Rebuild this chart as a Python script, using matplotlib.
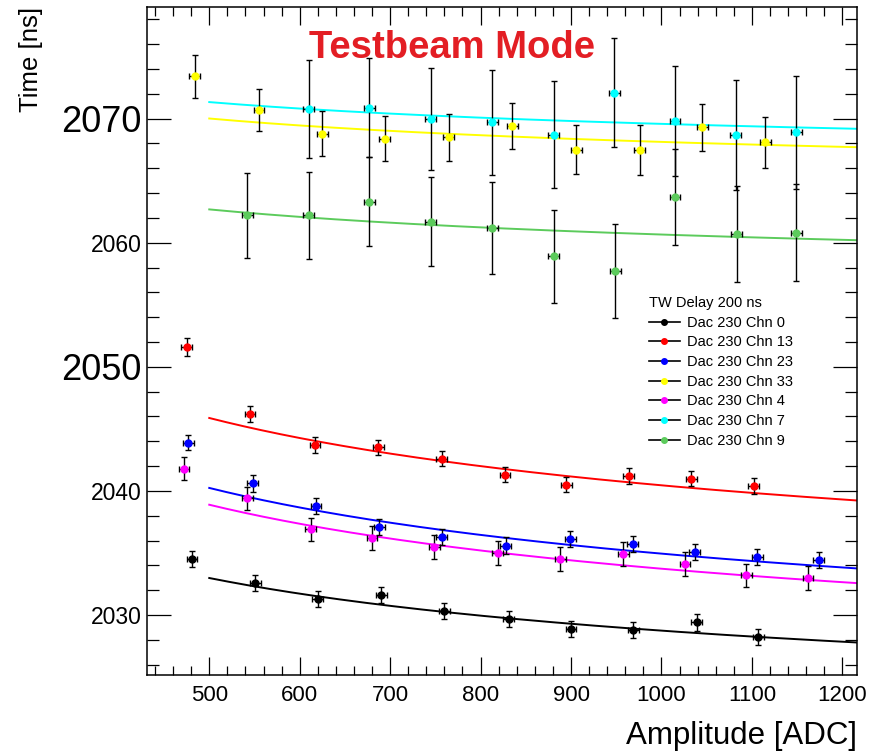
import numpy as np
import matplotlib
matplotlib.use("Agg")
import matplotlib.pyplot as plt
from matplotlib.lines import Line2D
from matplotlib.ticker import MultipleLocator

plt.rcParams["font.family"] = ["Liberation Sans", "DejaVu Sans"]

# measured points: amplitude [ADC], time [ns], time error [ns]
amp_ch0 = [481, 551, 620, 690, 760, 831, 900, 969, 1039, 1107]
time_ch0 = [2034.5, 2032.6, 2031.3, 2031.6, 2030.3, 2029.7, 2028.9, 2028.8, 2029.4, 2028.2]
terr_ch0 = [0.63, 0.65, 0.65, 0.65, 0.65, 0.65, 0.65, 0.65, 0.65, 0.65]

amp_ch13 = [475, 545, 617, 687, 757, 827, 895, 964, 1033, 1102]
time_ch13 = [2051.6, 2046.2, 2043.7, 2043.5, 2042.6, 2041.3, 2040.5, 2041.2, 2041.0, 2040.4]
terr_ch13 = [0.7, 0.62, 0.62, 0.62, 0.62, 0.62, 0.62, 0.62, 0.62, 0.62]

amp_ch23 = [477, 548, 618, 688, 757, 828, 899, 968, 1037, 1106, 1174]
time_ch23 = [2043.9, 2040.6, 2038.8, 2037.1, 2036.3, 2035.6, 2036.1, 2035.7, 2035.1, 2034.7, 2034.4]
terr_ch23 = [0.6, 0.65, 0.65, 0.65, 0.65, 0.65, 0.65, 0.65, 0.65, 0.65, 0.65]

amp_ch33 = [484, 555, 625, 694, 765, 835, 906, 976, 1045, 1115]
time_ch33 = [2073.4, 2070.7, 2068.8, 2068.4, 2068.5, 2069.4, 2067.5, 2067.5, 2069.3, 2068.1]
terr_ch33 = [1.7, 1.7, 1.8, 1.8, 1.9, 1.85, 1.95, 2.0, 1.9, 2.05]

amp_ch4 = [472, 542, 612, 680, 749, 819, 888, 958, 1026, 1094, 1162]
time_ch4 = [2041.8, 2039.4, 2036.9, 2036.2, 2035.5, 2035.0, 2034.5, 2034.9, 2034.1, 2033.2, 2033.0]
terr_ch4 = [0.95, 0.95, 0.93, 0.95, 0.95, 0.95, 0.95, 0.95, 0.95, 0.95, 0.95]

amp_ch7 = [610, 677, 745, 813, 881, 948, 1015, 1082, 1149]
time_ch7 = [2070.8, 2070.9, 2070.0, 2069.7, 2068.7, 2072.1, 2069.8, 2068.7, 2068.9]
terr_ch7 = [3.95, 4.0, 4.1, 4.2, 4.3, 4.4, 4.45, 4.45, 4.55]

amp_ch9 = [542, 610, 677, 745, 813, 881, 949, 1015, 1083, 1149]
time_ch9 = [2062.2, 2062.2, 2063.3, 2061.7, 2061.2, 2058.9, 2057.7, 2063.7, 2060.7, 2060.8]
terr_ch9 = [3.45, 3.5, 3.6, 3.6, 3.7, 3.75, 3.8, 3.85, 3.9, 3.9]

amp_err = 6.0

# time-walk fit results: t = p0 + p1 / sqrt(amp), fitted from 500 ADC
fit_ch0 = (2018.50, 323.8)
fit_ch13 = (2027.35, 414.3)
fit_ch23 = (2022.16, 404.3)
fit_ch33 = (2063.57, 144.1)
fit_ch4 = (2021.28, 393.7)
fit_ch7 = (2065.34, 134.1)
fit_ch9 = (2055.77, 154.7)

channels = [
    ("Dac 230 Chn 0", "#000000", amp_ch0, time_ch0, terr_ch0, fit_ch0),
    ("Dac 230 Chn 13", "#ff0000", amp_ch13, time_ch13, terr_ch13, fit_ch13),
    ("Dac 230 Chn 23", "#0000ff", amp_ch23, time_ch23, terr_ch23, fit_ch23),
    ("Dac 230 Chn 33", "#ffff00", amp_ch33, time_ch33, terr_ch33, fit_ch33),
    ("Dac 230 Chn 4", "#ff00ff", amp_ch4, time_ch4, terr_ch4, fit_ch4),
    ("Dac 230 Chn 7", "#00ffff", amp_ch7, time_ch7, terr_ch7, fit_ch7),
    ("Dac 230 Chn 9", "#5ccb5c", amp_ch9, time_ch9, terr_ch9, fit_ch9),
]

W, H = 879, 752
fig = plt.figure(figsize=(W / 100, H / 100), dpi=100)
fig.patch.set_facecolor("white")
ax = fig.add_axes([147.3 / W, 1 - 675.3 / H, (856.7 - 147.3) / W, (675.3 - 7.0) / H])

xmin, xmax = 431.5, 1215.9
ymin, ymax = 2025.14, 2079.0

xfit = np.linspace(500, xmax, 300)
for label, color, amp, t, terr, (p0, p1) in channels:
    ax.plot(xfit, p0 + p1 / np.sqrt(xfit), color=color, lw=1.4, zorder=2)

for label, color, amp, t, terr, fit in channels:
    ax.errorbar(amp, t, yerr=terr, xerr=amp_err, fmt="o", ms=5, mfc=color, mec=color,
                ecolor="black", elinewidth=1.0, capsize=2.2, capthick=1.0, zorder=3)

ax.set_xlim(xmin, xmax)
ax.set_ylim(ymin, ymax)
ax.xaxis.set_major_locator(MultipleLocator(100))
ax.xaxis.set_minor_locator(MultipleLocator(20))
ax.yaxis.set_major_locator(MultipleLocator(10))
ax.yaxis.set_minor_locator(MultipleLocator(2))

ax.tick_params(which="both", direction="in", top=True, right=True, width=0.9, colors="black")
ax.tick_params(axis="x", which="major", length=13, labelsize=16, pad=7)
ax.tick_params(axis="x", which="minor", length=6.5)
ax.tick_params(axis="y", which="major", length=17, labelsize=16.5, pad=4)
ax.tick_params(axis="y", which="minor", length=8.6)
for spine in ax.spines.values():
    spine.set_linewidth(1.1)

fig.canvas.draw()
for lab in ax.get_yticklabels():
    if lab.get_text() in ("2050", "2070"):
        lab.set_fontsize(26)

ax.set_xlabel("Amplitude [ADC]", fontsize=22.5, loc="right", labelpad=11)
ax.set_ylabel("Time [ns]", fontsize=18.5, loc="top", labelpad=13)

ax.text(451.7 / W, 1 - 58.3 / H, "Testbeam Mode", transform=fig.transFigure,
        ha="center", va="baseline", fontsize=27.5, fontweight="bold", color="#e31e24")

handles = [Line2D([], [], color="black", lw=1.2, marker="o", ms=4, mfc=c, mec=c)
           for _, c, *_ in channels]
labels = [ch[0] for ch in channels]
leg = ax.legend(handles, labels, title="TW Delay 200 ns", loc="upper left",
                bbox_to_anchor=(649 / W, 1 - 296 / H), bbox_transform=fig.transFigure,
                frameon=False, fontsize=10.5, title_fontsize=10.5, handlelength=2.1,
                handletextpad=0.5, labelspacing=0.39, borderpad=0, borderaxespad=0,
                alignment="left")

fig.savefig("out.png", dpi=100)
